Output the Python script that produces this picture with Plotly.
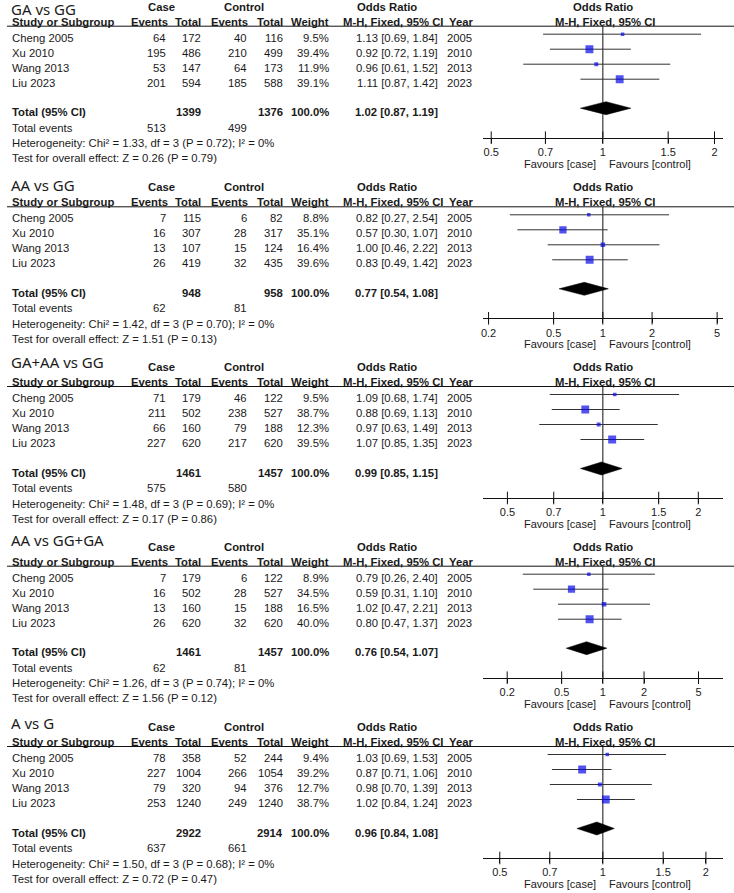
import math
import plotly.graph_objects as go

# ---------------- data ----------------
COMPARISONS = ["GA vs GG", "AA vs GG", "GA+AA vs GG", "AA vs GG+GA", "A vs G"]
STUDIES = ["Cheng 2005", "Xu 2010", "Wang 2013", "Liu 2023"]
YEARS = ["2005", "2010", "2013", "2023"]
CASE_EVENTS = [[64, 195, 53, 201], [7, 16, 13, 26], [71, 211, 66, 227], [7, 16, 13, 26], [78, 227, 79, 253]]
CASE_TOTAL = [[172, 486, 147, 594], [115, 307, 107, 419], [179, 502, 160, 620], [179, 502, 160, 620], [358, 1004, 320, 1240]]
CTRL_EVENTS = [[40, 210, 64, 185], [6, 28, 15, 32], [46, 238, 79, 217], [6, 28, 15, 32], [52, 266, 94, 249]]
CTRL_TOTAL = [[116, 499, 173, 588], [82, 317, 124, 435], [122, 527, 188, 620], [122, 527, 188, 620], [244, 1054, 376, 1240]]
WEIGHTS = [[9.5, 39.4, 11.9, 39.1], [8.8, 35.1, 16.4, 39.6], [9.5, 38.7, 12.3, 39.5], [8.9, 34.5, 16.5, 40.0], [9.4, 39.2, 12.7, 38.7]]
OR = [[1.13, 0.92, 0.96, 1.11], [0.82, 0.57, 1.00, 0.83], [1.09, 0.88, 0.97, 1.07], [0.79, 0.59, 1.02, 0.80], [1.03, 0.87, 0.98, 1.02]]
CI_LO = [[0.69, 0.72, 0.61, 0.87], [0.27, 0.30, 0.46, 0.49], [0.68, 0.69, 0.63, 0.85], [0.26, 0.31, 0.47, 0.47], [0.69, 0.71, 0.70, 0.84]]
CI_HI = [[1.84, 1.19, 1.52, 1.42], [2.54, 1.07, 2.22, 1.42], [1.74, 1.13, 1.49, 1.35], [2.40, 1.10, 2.21, 1.37], [1.53, 1.06, 1.39, 1.24]]
POOLED_OR = [1.02, 0.77, 0.99, 0.76, 0.96]
POOLED_LO = [0.87, 0.54, 0.85, 0.54, 0.84]
POOLED_HI = [1.19, 1.08, 1.15, 1.07, 1.08]
TOTAL_CASE = [1399, 948, 1461, 1461, 2922]
TOTAL_CTRL = [1376, 958, 1457, 1457, 2914]
TOTAL_EV_CASE = [513, 62, 575, 62, 637]
TOTAL_EV_CTRL = [499, 81, 580, 81, 661]
HET_CHI = ["1.33", "1.42", "1.48", "1.26", "1.50"]
HET_P = ["0.72", "0.70", "0.69", "0.74", "0.68"]
Z_VAL = ["0.26", "1.51", "0.17", "1.56", "0.72"]
Z_P = ["0.79", "0.13", "0.86", "0.12", "0.47"]
TICK_VALS = [[0.5, 0.7, 1, 1.5, 2], [0.2, 0.5, 1, 2, 5], [0.5, 0.7, 1, 1.5, 2], [0.2, 0.5, 1, 2, 5], [0.5, 0.7, 1, 1.5, 2]]
TICK_TEXT = [["0.5", "0.7", "1", "1.5", "2"], ["0.2", "0.5", "1", "2", "5"], ["0.5", "0.7", "1", "1.5", "2"],
             ["0.2", "0.5", "1", "2", "5"], ["0.5", "0.7", "1", "1.5", "2"]]

# ---------------- layout (pixels) ----------------
W, H = 734, 893
FIRST_ROW_Y = [37.7, 218.3, 398.0, 577.7, 758.0]
TITLE_Y = [8.5, 185.0, 362.0, 540.0, 723.0]
AXIS_HALF = [0.324, 0.735, 0.379, 0.878, 0.351]  # log10 half-range of each forest axis
FX0, FX1 = 482, 723
FONT = "Liberation Sans, Arial, sans-serif"
TITLE_FONT = "Noto Sans, sans-serif"
TXT = "#1a1a1a"
BLUE = "#0808e8"

fig = go.Figure()
ann = []
shapes = []


def px(x):
    return x / W


def text(x, y, s, anchor="left", size=11.3, bold=False, family=FONT):
    ann.append(dict(x=px(x), y=y, xref="paper", yref="y", text=("<b>%s</b>" % s) if bold else s,
                    showarrow=False, xanchor=anchor, yanchor="middle",
                    font=dict(family=family, size=size, color=TXT), borderpad=0))


for k in range(5):
    r0 = FIRST_ROW_Y[k]
    rows = [r0 + 15 * i for i in range(4)]
    study_y = r0 - 16
    head_y = study_y - 15
    line_y = study_y + 4.5
    tot_y = r0 + 74.5
    te_y = tot_y + 15.5
    het_y = te_y + 15.5
    test_y = het_y + 15
    axis_y = r0 + 100
    xa = "x" if k == 0 else "x%d" % (k + 1)

    # titles / headers
    text(8, TITLE_Y[k], COMPARISONS[k], size=15, family=TITLE_FONT)
    text(160, head_y, "Case", "center", bold=True)
    text(243, head_y, "Control", "center", bold=True)
    text(386, head_y, "Odds Ratio", "center", bold=True)
    text(603, head_y, "Odds Ratio", "center", bold=True)
    text(9, study_y, "Study or Subgroup", bold=True)
    text(167, study_y, "Events", "right", bold=True)
    text(201, study_y, "Total", "right", bold=True)
    text(248, study_y, "Events", "right", bold=True)
    text(283, study_y, "Total", "right", bold=True)
    text(329, study_y, "Weight", "right", bold=True)
    text(443, study_y, "M-H, Fixed, 95% CI", "right", bold=True)
    text(447, study_y, "Year", "left", bold=True)
    text(605, study_y, "M-H, Fixed, 95% CI", "center", bold=True)
    shapes.append(dict(type="line", xref="paper", yref="y", x0=px(5), x1=1, y0=line_y, y1=line_y,
                       line=dict(color="#111", width=1)))

    for i in range(4):
        y = rows[i]
        text(9, y, STUDIES[i])
        text(165, y, str(CASE_EVENTS[k][i]), "right")
        text(201, y, str(CASE_TOTAL[k][i]), "right")
        text(247, y, str(CTRL_EVENTS[k][i]), "right")
        text(283, y, str(CTRL_TOTAL[k][i]), "right")
        text(329, y, "%.1f%%" % WEIGHTS[k][i], "right")
        text(438, y, "%.2f [%.2f, %.2f]" % (OR[k][i], CI_LO[k][i], CI_HI[k][i]), "right")
        text(472, y, YEARS[i], "right")

    text(9, tot_y, "Total (95% CI)", bold=True)
    text(201, tot_y, str(TOTAL_CASE[k]), "right", bold=True)
    text(283, tot_y, str(TOTAL_CTRL[k]), "right", bold=True)
    text(329, tot_y, "100.0%", "right", bold=True)
    text(438, tot_y, "%.2f [%.2f, %.2f]" % (POOLED_OR[k], POOLED_LO[k], POOLED_HI[k]), "right", bold=True)
    text(9, te_y, "Total events")
    text(165, te_y, str(TOTAL_EV_CASE[k]), "right")
    text(247, te_y, str(TOTAL_EV_CTRL[k]), "right")
    text(9, het_y, "Heterogeneity: Chi² = %s, df = 3 (P = %s); I² = 0%%" % (HET_CHI[k], HET_P[k]))
    text(9, test_y, "Test for overall effect: Z = %s (P = %s)" % (Z_VAL[k], Z_P[k]))
    text(597, axis_y + 26, "Favours [case]", "right", size=11)
    text(608, axis_y + 26, "Favours [control]", "left", size=11)

    # forest marks
    mark_y = [y - 3.5 for y in rows]
    # null line
    fig.add_trace(go.Scatter(x=[1, 1], y=[line_y, axis_y], mode="lines", xaxis=xa, yaxis="y",
                             line=dict(color="#111", width=1), hoverinfo="skip", showlegend=False))
    for i in range(4):
        fig.add_trace(go.Scatter(x=[CI_LO[k][i], CI_HI[k][i]], y=[mark_y[i], mark_y[i]], mode="lines",
                                 xaxis=xa, yaxis="y", line=dict(color="#333", width=1),
                                 hoverinfo="skip", showlegend=False))
    fig.add_trace(go.Scatter(x=OR[k], y=mark_y, mode="markers", xaxis=xa, yaxis="y",
                             marker=dict(symbol="square", color=BLUE,
                                         size=[2.2 + 0.145 * w for w in WEIGHTS[k]], line=dict(width=0)),
                             showlegend=False))
    dy = tot_y - 4
    fig.add_trace(go.Scatter(x=[POOLED_LO[k], POOLED_OR[k], POOLED_HI[k], POOLED_OR[k], POOLED_LO[k]],
                             y=[dy, dy - 6.5, dy, dy + 6.5, dy], mode="lines", fill="toself",
                             fillcolor="black", line=dict(color="black", width=0.5),
                             xaxis=xa, yaxis="y", showlegend=False, hoverinfo="skip"))
    # upper half of the cross-shaped ticks
    fig.add_trace(go.Scatter(x=TICK_VALS[k], y=[axis_y] * len(TICK_VALS[k]), mode="markers",
                             xaxis=xa, yaxis="y",
                             marker=dict(symbol="line-ns", size=9, line=dict(color="#111", width=1)),
                             showlegend=False, hoverinfo="skip"))

    fig.layout["xaxis" if k == 0 else "xaxis%d" % (k + 1)] = dict(
        type="log", range=[-AXIS_HALF[k], AXIS_HALF[k]], domain=[px(FX0), px(FX1)],
        anchor="free", position=1 - axis_y / H, showline=True, linecolor="#111", linewidth=1,
        ticks="outside", ticklen=4, tickcolor="#111", tickvals=TICK_VALS[k], ticktext=TICK_TEXT[k],
        tickfont=dict(family=FONT, size=11, color=TXT), showgrid=False, zeroline=False, fixedrange=True)

fig.update_layout(
    width=W, height=H, margin=dict(l=0, r=0, t=0, b=0),
    paper_bgcolor="white", plot_bgcolor="rgba(0,0,0,0)",
    yaxis=dict(domain=[0, 1], range=[H, 0], visible=False, fixedrange=True),
    annotations=ann, shapes=shapes, showlegend=False,
)

fig.write_html("out.html", config={"displayModeBar": False},
               post_script="document.body.style.margin='0';document.body.style.padding='0';")
